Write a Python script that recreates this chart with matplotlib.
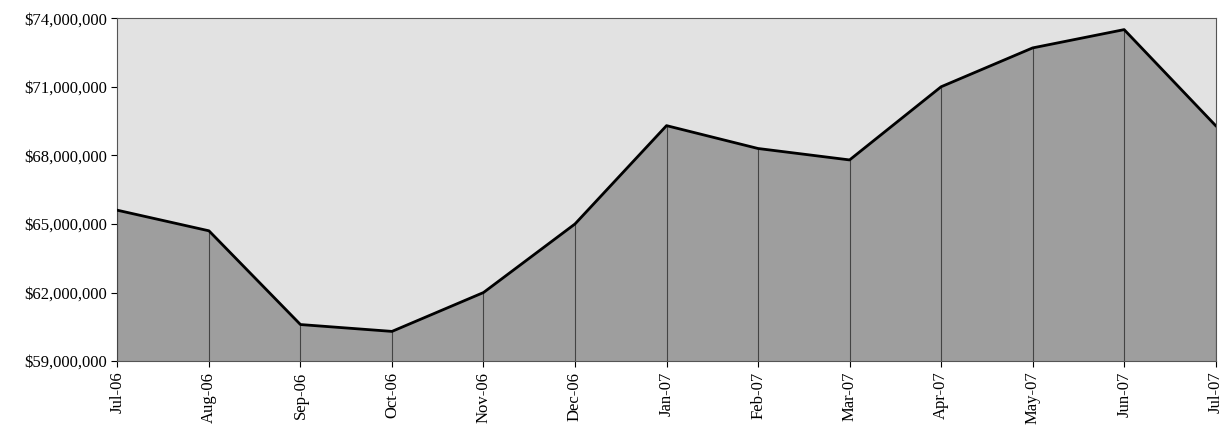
import numpy as np
from matplotlib import pyplot as plt
from matplotlib.ticker import FuncFormatter

months = ['Jul-06', 'Aug-06', 'Sep-06', 'Oct-06', 'Nov-06', 'Dec-06', 'Jan-07',
          'Feb-07', 'Mar-07', 'Apr-07', 'May-07', 'Jun-07', 'Jul-07']
values = [65.6, 64.7, 60.6, 60.3, 62.0, 65.0, 69.3, 68.3, 67.8, 71.0, 72.7, 73.5, 69.3]
values = np.array(values) * 1e6

plt.rcParams['font.family'] = ['Liberation Serif', 'DejaVu Serif']

fig = plt.figure(figsize=(12.23, 4.33), dpi=100)
ax = fig.add_axes([0.096, 0.166, 0.898, 0.792])
x = np.arange(len(months))

ax.set_facecolor('#e2e2e2')
ax.fill_between(x, 59e6, values, color='#9e9e9e', zorder=2)
ax.plot(x, values, color='black', lw=2, zorder=4)
ax.vlines(x, 59e6, values, color='#444444', lw=0.8, zorder=3)

ax.set_xlim(0, len(months) - 1)
ax.set_ylim(59e6, 74e6)
ax.set_yticks(np.arange(59e6, 74.1e6, 3e6))
ax.yaxis.set_major_formatter(FuncFormatter(lambda v, p: '${:,.0f}'.format(v)))
ax.set_xticks(x)
ax.set_xticklabels(months, rotation=90)
ax.tick_params(labelsize=12, direction='out', length=4)
for s in ax.spines.values():
    s.set_color('#555555')

fig.savefig('out.png')
